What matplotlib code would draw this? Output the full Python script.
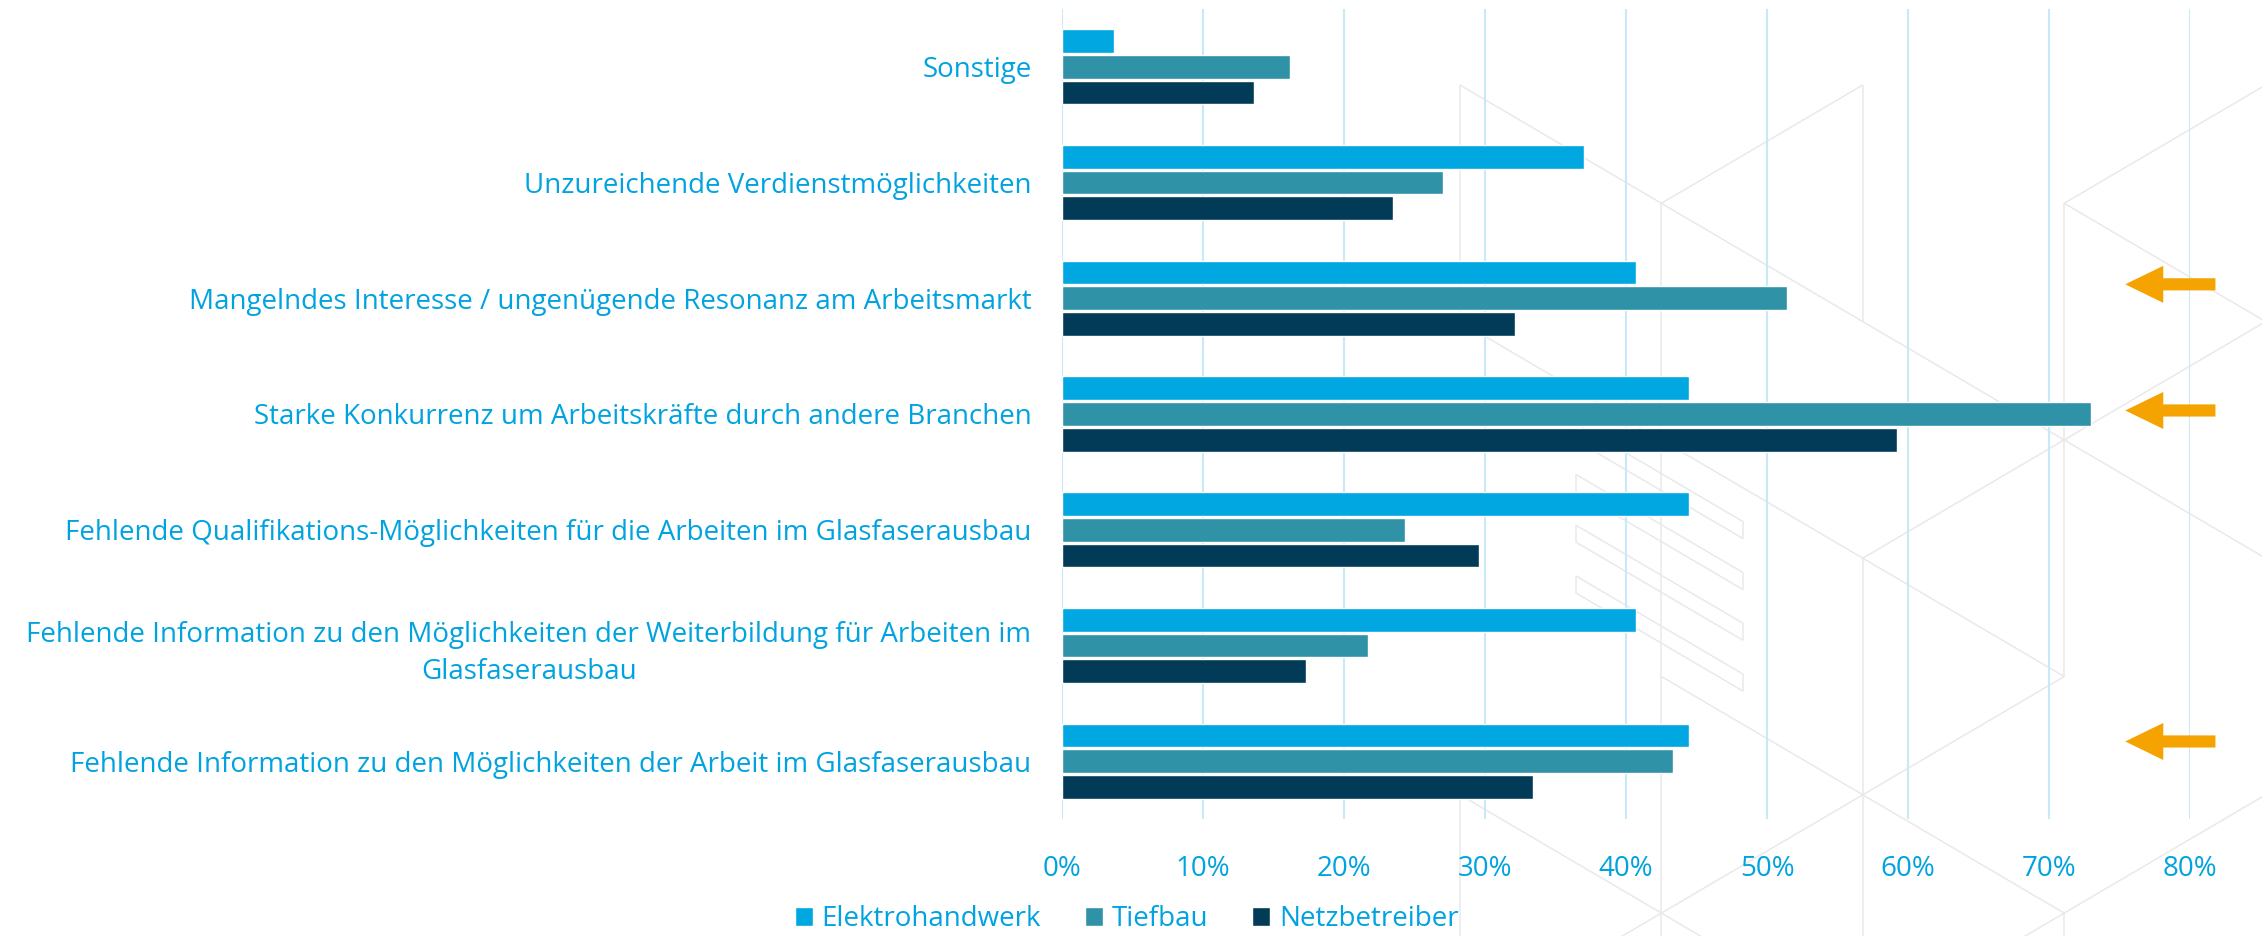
import numpy as np
import matplotlib.pyplot as plt
from matplotlib.ticker import PercentFormatter
from matplotlib.collections import LineCollection
from matplotlib.patches import Polygon

plt.rcParams['font.family'] = ['Open Sans', 'DejaVu Sans']

categories = [
    "Sonstige",
    "Unzureichende Verdienstmöglichkeiten",
    "Mangelndes Interesse / ungenügende Resonanz am Arbeitsmarkt",
    "Starke Konkurrenz um Arbeitskräfte durch andere Branchen",
    "Fehlende Qualifikations-Möglichkeiten für die Arbeiten im Glasfaserausbau",
    "Fehlende Information zu den Möglichkeiten der Weiterbildung für Arbeiten im\nGlasfaserausbau",
    "Fehlende Information zu den Möglichkeiten der Arbeit im Glasfaserausbau",
]
series_names = ["Elektrohandwerk", "Tiefbau", "Netzbetreiber"]
elektro = [0.037, 0.370, 0.407, 0.445, 0.445, 0.407, 0.445]
tiefbau = [0.162, 0.270, 0.514, 0.730, 0.243, 0.217, 0.433]
netz = [0.136, 0.235, 0.321, 0.592, 0.296, 0.173, 0.334]
highlighted = [
    "Mangelndes Interesse / ungenügende Resonanz am Arbeitsmarkt",
    "Starke Konkurrenz um Arbeitskräfte durch andere Branchen",
    "Fehlende Information zu den Möglichkeiten der Arbeit im Glasfaserausbau",
]
xticks = np.arange(0, 0.81, 0.1)

colors = ["#00A7E1", "#3092A7", "#023B57"]
text_col = "#00A3E0"
grid_col = "#C8E9F8"
arrow_col = "#F5A300"
deco_col = "#E9E9E9"
arrow_nudge = [-0.12, -0.03, -0.17]
fs = 20

W, H = 2262, 936
fig = plt.figure(figsize=(W / 100, H / 100), dpi=100)

# --- decorative isometric background (pixel space) ---
bg = fig.add_axes([0, 0, 1, 1], zorder=-1)
bg.set_xlim(0, W)
bg.set_ylim(H, 0)
bg.axis("off")
x0, y0, dx, dy = 1460, 85, 201.4, 118.3
lattice = [
    ((0, 0), (4, 4)), ((2, 0), (1, 1)), ((2, 0), (2, 2)), ((0, 0), (0, 2)),
    ((1, 1), (1, 7.4)), ((3, 1), (4, 0)), ((3, 1), (4, 2)), ((3, 1), (3, 5)),
    ((4, 2), (2, 4)), ((2, 4), (2, 7.4)), ((2, 4), (3, 5)), ((1, 5), (3, 7)),
    ((3, 5), (0.6, 7.4)), ((4, 6), (2.6, 7.4)), ((0, 6), (1.4, 7.4)),
    ((0, 6), (0, 7.4)), ((3, 7), (3, 7.4)), ((0, 2), (2, 4)),
]
segs = [[(x0 + a[0] * dx, y0 + a[1] * dy), (x0 + b[0] * dx, y0 + b[1] * dy)]
        for a, b in lattice]
bg.add_collection(LineCollection(segs, colors=deco_col, linewidths=1.1))
slope = dy / dx
for top in [423.5, 474.5, 525.2, 576]:
    xl, xr, h = 1576, 1743, 17
    yr = top + (xr - xl) * slope
    bg.add_patch(Polygon([(xl, top), (xr, yr), (xr, yr + h), (xl, top + h)],
                         closed=True, facecolor="white", edgecolor=deco_col,
                         linewidth=1.1))

# --- chart ---
ax = fig.add_axes([0.4695, 0.125, 0.4987, 0.8655])
ax.patch.set_alpha(0)

y = np.arange(len(categories))
step = 0.222
for k, vals in enumerate([elektro, tiefbau, netz]):
    ax.barh(y + (k - 1) * step, vals, height=0.205, color=colors[k],
            edgecolor="white", linewidth=1.0, label=series_names[k], zorder=3)

ax.set_ylim(len(categories) - 0.5, -0.5)
ax.set_xlim(0, 0.8)
ax.set_xticks(xticks)
ax.xaxis.set_major_formatter(PercentFormatter(1.0, decimals=0))
ax.set_yticks(y)
ax.set_yticklabels(categories)
ax.grid(axis="x", color=grid_col, linewidth=1.5, zorder=0)
for s in ax.spines.values():
    s.set_visible(False)
ax.tick_params(axis="both", length=0, labelsize=fs, labelcolor=text_col)
ax.tick_params(axis="x", pad=26)
ax.tick_params(axis="y", pad=22)

# wrapped label is centred on itself, like the original
for lab in ax.get_yticklabels():
    if "\n" in lab.get_text():
        lab.set_multialignment("center")
        lab.set_linespacing(1.45)

# orange arrows pointing at the highlighted reasons
for name, nudge in zip(highlighted, arrow_nudge):
    yi = categories.index(name) + nudge
    ax.arrow(0.818, yi, -0.064, 0, width=0.105, head_width=0.32,
             head_length=0.027, length_includes_head=True,
             color=arrow_col, linewidth=0, clip_on=False, zorder=4)

leg = fig.legend(loc="center", bbox_to_anchor=(0.498, 0.018), ncol=3,
                 frameon=False, fontsize=fs, handlelength=0.65, handleheight=0.65,
                 handletextpad=0.3, columnspacing=1.6)
for t in leg.get_texts():
    t.set_color(text_col)

fig.savefig("out.png", dpi=100)
